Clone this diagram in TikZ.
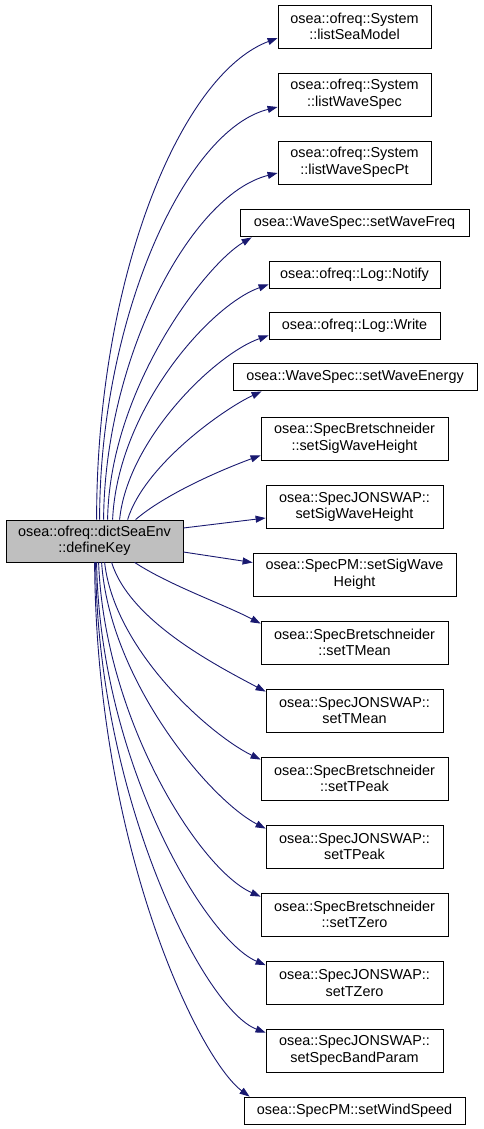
\documentclass[tikz,border=0pt]{standalone}
\usepackage{fontspec}
\setmainfont{Liberation Sans}
\usetikzlibrary{arrows.meta,calc}
\definecolor{edgecol}{HTML}{191970}
\definecolor{srcfill}{HTML}{BFBFBF}
\begin{document}
\begin{tikzpicture}[x=1pt,y=-1pt,
  box/.style={draw=black,line width=0.8pt,fill=white,inner sep=0pt,align=center,
    font=\fontsize{14.4}{16.5}\selectfont},
  two/.style={box,minimum height=43pt},
  one/.style={box,minimum height=27pt},
  call/.style={draw=edgecol,line width=0.9pt,-{Triangle[length=10pt,width=7pt]},fill=none},
  every path/.append style={}]
\useasboundingbox (0,0) rectangle (483,1129);
\node[box,fill=srcfill,minimum width=177pt,minimum height=42pt] (src) at (94.5,541) {osea::ofreq::dictSeaEnv\\::defineKey};
\node[two,minimum width=153pt] (ls) at (354.5,26.5) {osea::ofreq::System\\::listSeaModel};
\node[two,minimum width=153pt] (lws) at (354.5,94.5) {osea::ofreq::System\\::listWaveSpec};
\node[two,minimum width=153pt] (lwsp) at (354.5,162.5) {osea::ofreq::System\\::listWaveSpecPt};
\node[one,minimum width=229pt] (swf) at (354.5,222.5) {osea::WaveSpec::setWaveFreq};
\node[one,minimum width=171pt] (ntf) at (354.5,274.5) {osea::ofreq::Log::Notify};
\node[one,minimum width=171pt] (wrt) at (354.5,325.5) {osea::ofreq::Log::Write};
\node[one,minimum width=244pt] (swe) at (355,376.5) {osea::WaveSpec::setWaveEnergy};
\node[two,minimum width=187pt] (bsh) at (354.5,438.5) {osea::SpecBretschneider\\::setSigWaveHeight};
\node[two,minimum width=177pt] (jsh) at (354.5,507) {osea::SpecJONSWAP::\\setSigWaveHeight};
\node[two,minimum width=203pt] (psh) at (354.5,574.5) {osea::SpecPM::setSigWave\\Height};
\node[two,minimum width=187pt] (btm) at (354.5,642.5) {osea::SpecBretschneider\\::setTMean};
\node[two,minimum width=177pt] (jtm) at (354.5,710.5) {osea::SpecJONSWAP::\\setTMean};
\node[two,minimum width=187pt] (btp) at (354.5,778.5) {osea::SpecBretschneider\\::setTPeak};
\node[two,minimum width=177pt] (jtp) at (354.5,846.5) {osea::SpecJONSWAP::\\setTPeak};
\node[two,minimum width=187pt] (btz) at (354.5,914.5) {osea::SpecBretschneider\\::setTZero};
\node[two,minimum width=177pt] (jtz) at (354.5,983) {osea::SpecJONSWAP::\\setTZero};
\node[two,minimum width=177pt] (jsb) at (354.5,1050.5) {osea::SpecJONSWAP::\\setSpecBandParam};
\node[one,minimum width=221pt] (pws) at (354.5,1110.5) {osea::SpecPM::setWindSpeed};
% upper calls
\draw[call] ($(src.north west)+(91,0)$) .. controls +(0,-240) and +(-98,37) .. ($(ls.west)+(0,11.5)$);
\draw[call] ($(src.north west)+(94,0)$) .. controls +(0,-200) and +(-93,23) .. ($(lws.west)+(0,12.5)$);
\draw[call] ($(src.north west)+(98,0)$) .. controls +(1,-160) and +(-88,22) .. ($(lwsp.west)+(0,10.5)$);
\draw[call] ($(src.north west)+(102,0)$) .. controls +(2,-130) and +(-47,28) .. ($(swf.south west)+(12,1)$);
\draw[call] ($(src.north west)+(107,0)$) .. controls +(5,-110) and +(-59,21) .. ($(ntf.south west)+(0,-4)$);
\draw[call] ($(src.north west)+(114,0)$) .. controls +(8,-80) and +(-54,19) .. ($(wrt.south west)+(0,-4)$);
\draw[call] ($(src.north west)+(122,0)$) .. controls +(17,-55) and +(-37,17) .. ($(swe.south west)+(29,1)$);
\draw[call] ($(src.north west)+(130,0)$) .. controls +(29,-25) and +(-41,15) .. ($(bsh.south west)+(0,-5)$);
% side calls
\draw[call] ($(src.east)+(0,-13)$) -- ($(jsh.west)+(0,11)$);
\draw[call] ($(src.east)+(0,11)$) -- ($(psh.west)+(0,-12)$);
% lower calls
\draw[call] ($(src.south west)+(129,0)$) .. controls +(35,23) and +(-36,-19) .. ($(btm.north west)+(0,3)$);
\draw[call] ($(src.south west)+(106,0)$) .. controls +(18,58) and +(-51,-27) .. ($(jtm.north west)+(0,3)$);
\draw[call] ($(src.south west)+(99,0)$) .. controls +(10,88) and +(-51,-25) .. ($(btp.north west)+(0,3)$);
\draw[call] ($(src.south west)+(96,0)$) .. controls +(8,118) and +(-56,-29) .. ($(jtp.north west)+(0,4)$);
\draw[call] ($(src.south west)+(93,0)$) .. controls +(6,158) and +(-61,-27) .. ($(btz.north west)+(0,4)$);
\draw[call] ($(src.south west)+(91,0)$) .. controls +(3,198) and +(-61,-26) .. ($(jtz.north west)+(0,4)$);
\draw[call] ($(src.south west)+(90,0)$) .. controls +(2,238) and +(-61,-23) .. ($(jsb.north west)+(0,4)$);
\draw[call] ($(src.south west)+(89,0)$) .. controls +(2,288) and +(-50,-37) .. ($(pws.north west)+(6,0)$);
\end{tikzpicture}
\end{document}
